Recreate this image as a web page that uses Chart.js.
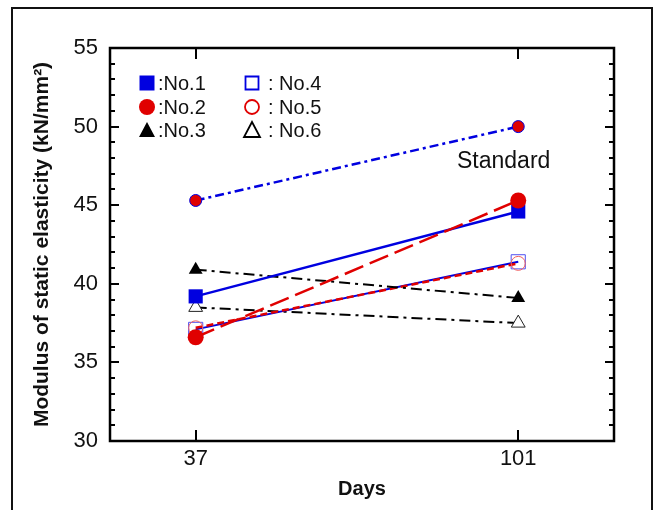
<!DOCTYPE html>
<html>
<head>
<meta charset="utf-8">
<script src="https://cdn.jsdelivr.net/npm/chart.js@4.4.1/dist/chart.umd.min.js"></script>
<style>
  html, body { margin: 0; padding: 0; background: #fff; overflow: hidden; }
  #frame { position: absolute; left: 11px; top: 7px; width: 638px; height: 520px; border: 2px solid #111; }
  #wrap { position: absolute; left: 0; top: 0; width: 662px; height: 510px; }
</style>
</head>
<body>
<div id="frame"></div>
<div id="wrap"><canvas id="modulusChart" width="662" height="510"></canvas></div>
<script>
// ages at test (days)
const days = [37, 101];
const yTicks = [30, 35, 40, 45, 50, 55];

// static elasticity modulus, kN/mm2
const standard = [45.3, 50.0];
const no1 = [39.2, 44.6];
const no2 = [36.6, 45.3];
const no3 = [40.9, 39.1];
const no4 = [37.1, 41.4];
const no5 = [37.2, 41.3];
const no6 = [38.5, 37.5];

const BLUE = '#0000e0';
const RED = '#e00000';
const BLACK = '#000000';
const FONT = '"Liberation Sans", Arial, sans-serif';

function pts(vals) {
  return days.map((d, i) => ({ x: d, y: vals[i] }));
}

const series = [
  { label: 'Standard', data: standard, color: BLUE, dash: [9, 4, 3, 4], width: 2.5,
    pointStyle: 'circle', radius: 6, fill: RED, border: BLUE, borderW: 1, order: 1 },
  { label: 'No.1', data: no1, color: BLUE, dash: [], width: 2.5,
    pointStyle: 'rect', radius: 10, fill: BLUE, border: BLUE, borderW: 0, order: 3 },
  { label: 'No.2', data: no2, color: RED, dash: [20, 7], width: 2.5,
    pointStyle: 'circle', radius: 8, fill: RED, border: RED, borderW: 0, order: 2 },
  { label: 'No.3', data: no3, color: BLACK, dash: [11, 5, 3, 5], width: 2,
    pointStyle: 'triangle', radius: 8, fill: BLACK, border: BLACK, borderW: 0, order: 4 },
  { label: 'No.4', data: no4, color: BLUE, dash: [], width: 2,
    pointStyle: 'rect', radius: 10, fill: 'rgba(255,255,255,0)', border: '#5050f0', borderW: 1, order: 6 },
  { label: 'No.5', data: no5, color: RED, dash: [7, 4], width: 2.5,
    pointStyle: 'circle', radius: 7, fill: 'rgba(255,255,255,0)', border: '#f06060', borderW: 1, order: 5 },
  { label: 'No.6', data: no6, color: BLACK, dash: [11, 5, 3, 5], width: 2,
    pointStyle: 'triangle', radius: 8, fill: '#fff', border: '#222', borderW: 1, order: 7 }
];

// box, inward ticks, legend and the "Standard" note
const decorations = {
  id: 'decorations',
  afterDraw(chart) {
    const { ctx, chartArea: a, scales: { x, y } } = chart;
    ctx.save();
    ctx.strokeStyle = '#000';
    ctx.lineWidth = 2.5;
    ctx.strokeRect(a.left, a.top, a.right - a.left, a.bottom - a.top);

    ctx.lineWidth = 2;
    ctx.beginPath();
    for (let v = 30; v <= 55; v++) {
      const py = Math.round(y.getPixelForValue(v));
      const len = v % 5 === 0 ? 9 : 5;
      ctx.moveTo(a.left, py); ctx.lineTo(a.left + len, py);
      ctx.moveTo(a.right, py); ctx.lineTo(a.right - len, py);
    }
    days.forEach(d => {
      const px = Math.round(x.getPixelForValue(d));
      ctx.moveTo(px, a.bottom); ctx.lineTo(px, a.bottom - 11);
      ctx.moveTo(px, a.top); ctx.lineTo(px, a.top + 11);
    });
    ctx.stroke();

    // legend, two columns of three
    ctx.font = '20px ' + FONT;
    ctx.textBaseline = 'middle';
    const rows = [83, 107, 130];
    const legendItems = series.slice(1);
    legendItems.forEach((s, i) => {
      const col = Math.floor(i / 3);
      const mx = col === 0 ? 147 : 252;
      const my = rows[i % 3];
      drawMarker(ctx, s.pointStyle, mx, my, col === 0);
      ctx.fillStyle = '#111';
      ctx.textAlign = 'left';
      ctx.fillText(col === 0 ? ':' + s.label : ': ' + s.label, col === 0 ? 158 : 268, my + 1);
    });

    ctx.font = '23px ' + FONT;
    ctx.fillText('Standard', 457, 162);
    ctx.restore();

    function drawMarker(c, style, cx, cy, filled) {
      const colr = style === 'rect' ? BLUE : style === 'circle' ? RED : BLACK;
      c.beginPath();
      if (style === 'rect') {
        if (filled) c.rect(cx - 7.5, cy - 7.5, 15, 15);
        else c.rect(cx - 6.5, cy - 6.5, 13, 13);
      } else if (style === 'circle') {
        c.arc(cx, cy, filled ? 8 : 7, 0, Math.PI * 2);
      } else {
        c.moveTo(cx, cy - 8); c.lineTo(cx + 8, cy + 7); c.lineTo(cx - 8, cy + 7); c.closePath();
      }
      if (filled) { c.fillStyle = colr; c.fill(); }
      else { c.lineWidth = 1.8; c.strokeStyle = colr; c.stroke(); }
    }
  }
};

new Chart(document.getElementById('modulusChart'), {
  type: 'scatter',
  data: {
    datasets: series.map(s => ({
      label: s.label,
      data: pts(s.data),
      showLine: true,
      borderColor: s.color,
      borderWidth: s.width,
      borderDash: s.dash,
      pointStyle: s.pointStyle,
      pointRadius: s.radius,
      pointBackgroundColor: s.fill,
      pointBorderColor: s.border,
      pointBorderWidth: s.borderW,
      order: s.order
    }))
  },
  options: {
    responsive: false,
    animation: false,
    events: [],
    layout: { padding: { left: 30, top: 48, right: 48, bottom: 0 } },
    plugins: { legend: { display: false }, tooltip: { enabled: false } },
    scales: {
      x: {
        type: 'linear',
        min: 20, max: 120,
        grid: { display: false, drawTicks: false },
        border: { display: false },
        afterBuildTicks: s => { s.ticks = days.map(v => ({ value: v })); },
        afterFit: s => { s.height = 69; },
        ticks: { padding: 5, color: '#111', font: { size: 22, family: FONT } },
        title: { display: true, text: 'Days', color: '#111', padding: { top: 0, bottom: 9 },
          font: { size: 20, weight: 'bold', family: FONT } }
      },
      y: {
        min: 30, max: 55,
        grid: { display: false, drawTicks: false },
        border: { display: false },
        afterBuildTicks: s => { s.ticks = yTicks.map(v => ({ value: v })); },
        afterFit: s => { s.width = 80; },
        ticks: { padding: 12, color: '#111', font: { size: 22, family: FONT } },
        title: { display: true, text: 'Modulus of static elasticity (kN/mm²)', color: '#111',
          padding: { top: 0, bottom: 0 },
          font: { size: 21, weight: 'bold', family: FONT } }
      }
    }
  },
  plugins: [decorations]
});
</script>
</body>
</html>
